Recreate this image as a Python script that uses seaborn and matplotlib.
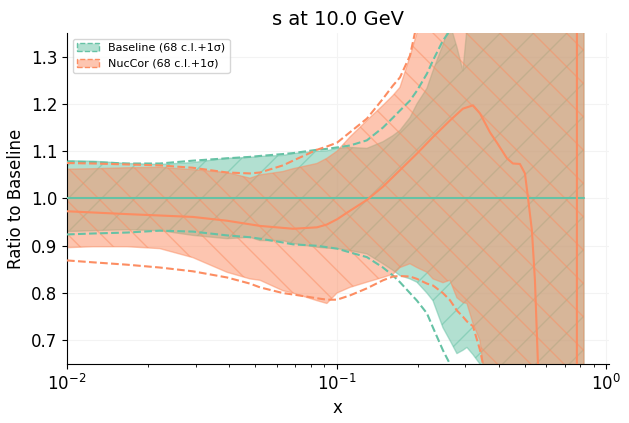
import numpy as np
import pandas as pd
import matplotlib
matplotlib.use('Agg')
import matplotlib.pyplot as plt
import matplotlib.patches as mpatches
import seaborn as sns

#%% data (ratio to baseline central value)
x_grid = [0.0100, 0.0125, 0.0167, 0.0221, 0.0293, 0.0392, 0.0477, 0.0520, 0.0632, 0.0689,
          0.0845, 0.0920, 0.1003, 0.1120, 0.1295, 0.1485, 0.1618, 0.1717, 0.1870, 0.1985,
          0.2162, 0.2276, 0.2478, 0.2631, 0.2793, 0.2940, 0.3042, 0.3202, 0.3399, 0.3487,
          0.4032, 0.5673, 0.8260]

# baseline 68 c.l. band
base_up = [1.080, 1.079, 1.074, 1.072, 1.076, 1.085, 1.087, 1.089, 1.091, 1.095,
           1.100, 1.101, 1.106, 1.108, 1.106, 1.120, 1.133, 1.144, 1.171, 1.200,
           1.233, 1.270, 1.325, 1.370, 1.320, 1.270, 1.360, 1.450, 1.550, 1.600,
           1.800, 2.300, 3.000]
base_lo = [0.930, 0.932, 0.934, 0.932, 0.922, 0.915, 0.918, 0.911, 0.911, 0.905,
           0.897, 0.895, 0.894, 0.890, 0.883, 0.862, 0.848, 0.837, 0.830, 0.823,
           0.800, 0.784, 0.727, 0.700, 0.672, 0.679, 0.685, 0.670, 0.650, 0.600,
           0.400, 0.000, -1.000]
# baseline 1 sigma
base_sd_up = [1.078, 1.077, 1.074, 1.074, 1.080, 1.085, 1.088, 1.090, 1.094, 1.096,
              1.103, 1.105, 1.108, 1.112, 1.123, 1.150, 1.171, 1.186, 1.207, 1.228,
              1.264, 1.292, 1.334, 1.355, 1.390, 1.420, 1.440, 1.480, 1.520, 1.550,
              1.700, 2.200, 3.000]
base_sd_lo = [0.924, 0.926, 0.928, 0.932, 0.930, 0.922, 0.918, 0.915, 0.907, 0.903,
              0.900, 0.897, 0.894, 0.886, 0.876, 0.854, 0.837, 0.823, 0.800, 0.784,
              0.757, 0.727, 0.679, 0.650, 0.620, 0.590, 0.570, 0.540, 0.510, 0.490,
              0.400, 0.000, -1.000]

# NucCor 68 c.l. band
nuc_up = [1.062, 1.063, 1.065, 1.066, 1.061, 1.055, 1.043, 1.050, 1.057, 1.063,
          1.074, 1.085, 1.100, 1.130, 1.165, 1.197, 1.218, 1.235, 1.300, 1.350,
          1.450, 1.500, 1.600, 1.700, 1.800, 1.850, 1.900, 2.000, 2.100, 2.200,
          2.500, 3.500, 5.000]
nuc_lo = [0.896, 0.898, 0.898, 0.894, 0.875, 0.844, 0.830, 0.827, 0.805, 0.800,
          0.784, 0.778, 0.800, 0.812, 0.823, 0.833, 0.840, 0.854, 0.862, 0.854,
          0.844, 0.830, 0.822, 0.827, 0.790, 0.780, 0.778, 0.736, 0.700, 0.650,
          0.400, 0.000, -2.000]
# NucCor 1 sigma
nuc_sd_up = [1.075, 1.074, 1.072, 1.070, 1.065, 1.055, 1.053, 1.055, 1.070, 1.080,
             1.103, 1.110, 1.118, 1.140, 1.169, 1.211, 1.239, 1.256, 1.302, 1.370,
             1.450, 1.500, 1.600, 1.700, 1.800, 1.850, 1.900, 2.000, 2.100, 2.200,
             2.500, 3.500, 5.000]
nuc_sd_lo = [0.869, 0.865, 0.860, 0.854, 0.846, 0.833, 0.820, 0.812, 0.800, 0.797,
             0.789, 0.786, 0.786, 0.795, 0.810, 0.827, 0.835, 0.836, 0.835, 0.830,
             0.820, 0.816, 0.800, 0.785, 0.763, 0.750, 0.740, 0.730, 0.680, 0.650,
             0.500, 0.000, -2.000]

# NucCor central value
x_cv = [0.0100, 0.0167, 0.0293, 0.0392, 0.0520, 0.0689, 0.0845, 0.0920, 0.1003, 0.1120,
        0.1295, 0.1485, 0.1717, 0.1985, 0.2276, 0.2631, 0.2940, 0.3202, 0.3399, 0.3702,
        0.3930, 0.4280, 0.4505, 0.4782, 0.4991, 0.5122, 0.5298, 0.5436, 0.5578, 0.5673,
        0.6000, 0.7000, 0.7700, 0.7850, 0.8260]
nuc_cv = [0.973, 0.967, 0.961, 0.953, 0.942, 0.936, 0.939, 0.945, 0.956, 0.974,
          0.997, 1.025, 1.060, 1.095, 1.130, 1.165, 1.190, 1.197, 1.180, 1.140,
          1.118, 1.085, 1.074, 1.073, 1.053, 1.002, 0.932, 0.827, 0.650, 0.300,
          -1.500, -5.000, -20.00, 20.00, 8.000]

base_cv = [1.0] * len(x_grid)

labels = ['Baseline (68 c.l.+1σ)', 'NucCor (68 c.l.+1σ)']

#%% figure
sns.set_style('ticks', {'axes.edgecolor': 'black', 'text.color': 'black',
                        'axes.labelcolor': 'black', 'xtick.color': 'black',
                        'ytick.color': 'black'})
pal = sns.color_palette('Set2')
c_base, c_nuc = pal[0], pal[1]

fig, ax = plt.subplots(figsize=(6.29, 4.23), dpi=100)
fig.subplots_adjust(left=0.1065, right=0.968, top=0.922, bottom=0.1395)
ax.set_xscale('log')

ax.fill_between(x_grid, base_lo, base_up, facecolor=c_base, edgecolor=c_base,
                alpha=0.5, hatch='/', lw=1, zorder=1)
ax.fill_between(x_grid, nuc_lo, nuc_up, facecolor=c_nuc, edgecolor=c_nuc,
                alpha=0.5, hatch='\\', lw=1, zorder=2)

for y, c in [(base_sd_up, c_base), (base_sd_lo, c_base),
             (nuc_sd_up, c_nuc), (nuc_sd_lo, c_nuc)]:
    sns.lineplot(x=x_grid, y=y, ax=ax, color=c, linestyle='--', lw=1.5, zorder=3)

sns.lineplot(x=x_grid, y=base_cv, ax=ax, color=c_base, lw=1.5, zorder=4)
sns.lineplot(x=x_cv, y=nuc_cv, ax=ax, color=c_nuc, lw=1.5, zorder=4)

ax.set_xlim(0.01, 1.022)
ax.set_ylim(0.65, 1.35)
ax.grid(True, which='major', color='#f3f3f3', lw=0.8, zorder=0)
ax.set_axisbelow(True)
sns.despine(ax=ax)

ax.set_title('s at 10.0 GeV', fontsize=14)
ax.set_xlabel('x', fontsize=12)
ax.set_ylabel('Ratio to Baseline', fontsize=12)
ax.tick_params(axis='both', labelsize=12)

handles = [mpatches.Patch(facecolor=(*c, 0.5), edgecolor=c, linestyle='--', lw=1)
           for c in (c_base, c_nuc)]
ax.legend(handles, labels, loc='upper left', fontsize=8)

fig.savefig('out.png', dpi=100, facecolor='w')
